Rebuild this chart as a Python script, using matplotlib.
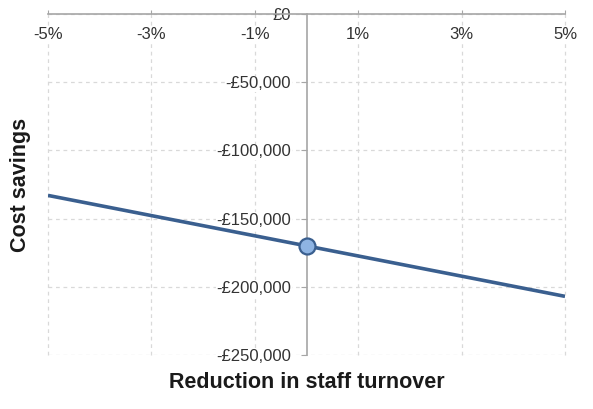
import matplotlib.pyplot as plt
from matplotlib.ticker import FuncFormatter

plt.rcParams['font.family'] = ['Liberation Sans', 'DejaVu Sans']

# reduction in staff turnover (%) vs cost savings (£)
turnover = [-5, 0, 5]
savings = [-133000, -170000, -207000]
base_x = [0]
base_y = [-170000]

x_ticks = [-5, -3, -1, 1, 3, 5]
y_ticks = [0, -50000, -100000, -150000, -200000, -250000]

line_col = '#3A5F8F'
grid_col = '#D9D9D9'
text_col = '#333333'


def money(v, pos=None):
    if v == 0:
        return '£0'
    return f'-£{abs(v):,.0f}'


def pct(v, pos=None):
    return f'{v:.0f}%'


def draw():
    fig = plt.figure(figsize=(5.93, 4.09), dpi=100)
    ax = fig.add_axes([48 / 593, 1 - 355 / 409, 517 / 593, 341 / 409])

    ax.plot(turnover, savings, color=line_col, lw=2.6, zorder=3,
            solid_capstyle='butt')
    ax.plot(base_x, base_y, 'o', ms=11.5, mfc='#8EB4E3', mec=line_col,
            mew=1.6, zorder=4)

    ax.set_xlim(-5, 5)
    ax.set_ylim(-250000, 0)
    ax.set_xticks(x_ticks)
    ax.set_yticks(y_ticks)
    ax.xaxis.set_major_formatter(FuncFormatter(pct))
    ax.yaxis.set_major_formatter(FuncFormatter(money))

    ax.grid(True, ls=(0, (3, 3)), color=grid_col, lw=0.9, zorder=0)
    ax.set_axisbelow(True)
    for gl in ax.get_xgridlines() + ax.get_ygridlines():
        gl.set_clip_on(False)

    for s in ['bottom', 'right']:
        ax.spines[s].set_visible(False)
    ax.spines['left'].set_position(('data', 0))
    for s in ['left', 'top']:
        ax.spines[s].set_color('#A6A6A6')
        ax.spines[s].set_linewidth(1.2)

    ax.xaxis.tick_top()
    ax.tick_params(axis='x', direction='out', length=3, color='#A6A6A6',
                   labelsize=12, labelcolor=text_col, pad=-23)
    ax.tick_params(axis='y', direction='out', length=4, color='#A6A6A6',
                   labelsize=12, labelcolor=text_col, pad=7)
    for lab in ax.get_xticklabels() + ax.get_yticklabels():
        lab.set_bbox(dict(facecolor='white', edgecolor='none', pad=0.5))

    ax.set_ylabel('Cost savings', fontsize=15.5, fontweight='bold', color='#1A1A1A')
    ax.yaxis.set_label_coords(-0.033, 0.5)
    fig.text(307 / 593, 1 - 382 / 409, 'Reduction in staff turnover',
             ha='center', va='center', fontsize=15.5, fontweight='bold',
             color='#1A1A1A')

    fig.savefig('out.png', dpi=100)


if __name__ == '__main__':
    draw()
